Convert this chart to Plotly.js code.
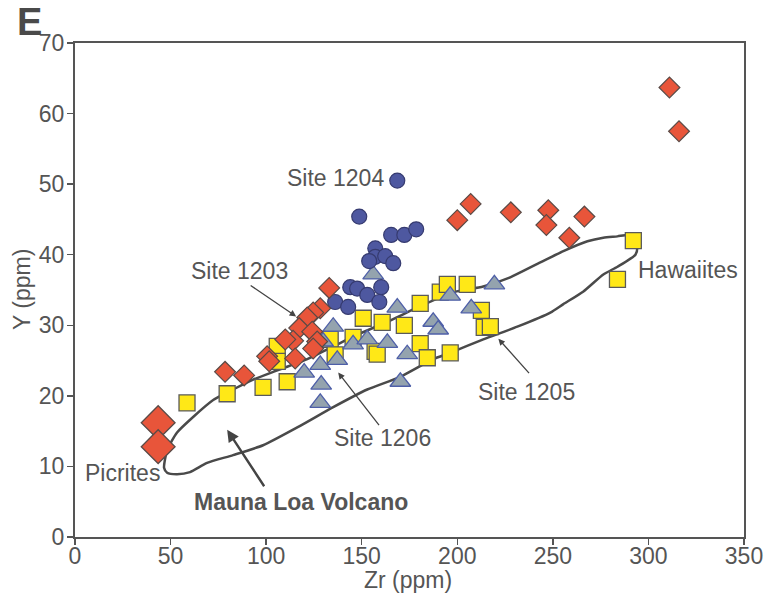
<!DOCTYPE html>
<html>
<head>
<meta charset="utf-8">
<script src="https://cdn.plot.ly/plotly-3.0.1.min.js"></script>
<style>html,body{margin:0;padding:0;background:#fff}#chart{width:767px;height:601px}</style>
</head>
<body>
<div id="chart"></div>
<script>
// Site 1203 (red diamonds)
const site1203Zr = [133, 128.3, 124.6, 121.5, 117.3, 124.1, 114.1, 110, 126.7, 124.6, 115.2, 100.5, 101.6, 78.5, 88.5,
  200, 207, 228, 247.6, 246.6, 258.6, 266.5, 311, 316];
const site1203Y = [35.3, 32.4, 31.8, 31.1, 29.6, 29.1, 27.8, 28.0, 27.7, 26.7, 25.3, 25.6, 24.9, 23.4, 22.9,
  44.9, 47.2, 46.0, 46.3, 44.2, 42.4, 45.4, 63.7, 57.5];
// Picrites (large diamonds)
const picriteZr = [43.5, 43.5];
const picriteY = [16.2, 12.8];
// Site 1204 (blue circles)
const site1204Zr = [168.6, 148.7, 165.4, 172.3, 178.5, 157.1, 157.1, 162.3, 153.9, 166.5, 144, 147.6, 160.2, 152.9, 159.2, 136.1, 142.9];
const site1204Y = [50.5, 45.4, 42.8, 42.8, 43.6, 40.9, 39.7, 39.8, 39.1, 38.8, 35.4, 35.2, 35.4, 34.3, 33.3, 33.3, 32.6];
// Site 1205 (yellow squares)
const site1205Zr = [58.6, 79.6, 98.4, 111, 105.8, 105.8, 133.5, 136.1, 145.5, 150.8, 160.7, 172.3, 157, 158.1, 180.6, 184.3,
  196.3, 180.6, 191.1, 194.8, 205.2, 212.6, 214.1, 217.3, 292.1, 283.8];
const site1205Y = [19.0, 20.3, 21.2, 22.0, 27.0, 24.9, 28.0, 25.8, 28.3, 31.0, 30.4, 30.0, 26.3, 25.9, 27.4, 25.4,
  26.1, 33.1, 34.7, 35.8, 35.8, 32.1, 29.7, 29.8, 42.0, 36.5];
// Site 1206 (grey triangles)
const site1206Zr = [156, 135.1, 129.8, 145.5, 152.9, 163.4, 168.6, 187.4, 190, 173.8, 170.2, 196.3, 219.4, 207.3, 137.2, 128.3, 119.9, 128.8, 128.3];
const site1206Y = [37.2, 29.8, 27.7, 27.3, 28.0, 27.5, 32.5, 30.5, 29.4, 25.9, 22.0, 34.2, 35.8, 32.4, 25.1, 24.4, 23.3, 21.6, 19.0];
// Mauna Loa Volcano field outline
const fieldZr = [46.6, 48.2, 53.4, 60.2, 69.1, 82.7, 98.4, 116.8, 135.1, 152.9, 170.2, 187.4, 196.3, 213.6, 231.4, 248.7, 255.5, 266, 276.4, 283.8,
  293.2, 294.2, 293.2, 289.5, 283.8, 276.4, 268.1, 255.5, 241.9, 227.7, 213.6, 197.9, 180.6, 163.4, 145.5, 135.1, 121.5, 103.7, 93.2, 82.7, 72.3, 61.8, 53.4, 48.2, 46.6];
const fieldY = [9.8, 9.1, 8.9, 9.2, 10.5, 11.6, 13.0, 15.6, 18.4, 20.9, 22.7, 25.2, 26.1, 28.0, 29.8, 31.8, 33.0, 34.8, 37.2, 38.3,
  40.0, 41.1, 42.2, 42.8, 42.6, 42.4, 41.9, 40.5, 38.7, 36.8, 35.5, 34.7, 32.7, 30.5, 28.4, 27.0, 25.2, 23.4, 22.3, 20.9, 19.4, 17.0, 14.8, 12.3, 9.8];
const xTicks = [0, 50, 100, 150, 200, 250, 300, 350];
const yTicks = [0, 10, 20, 30, 40, 50, 60, 70];

const gray = '#555555';
const font = 'Liberation Sans, Arial, Helvetica, sans-serif';
const FS = 23;

const traces = [
  {x: fieldZr, y: fieldY, mode: 'lines', line: {color: '#4a4a4a', width: 2.5, shape: 'spline', smoothing: 0.6}, hoverinfo: 'skip'},
  {x: site1205Zr, y: site1205Y, mode: 'markers', marker: {symbol: 'square', size: 16, color: '#FFE817', line: {color: '#5a5a5a', width: 1.3}}},
  {x: site1206Zr, y: site1206Y, mode: 'markers', marker: {symbol: 'triangle-up', size: 18, color: '#94A3AE', line: {color: '#4E5FA8', width: 1.3}}},
  {x: site1204Zr, y: site1204Y, mode: 'markers', marker: {symbol: 'circle', size: 15, color: '#4E58A0', line: {color: '#363b70', width: 1.2}}},
  {x: site1203Zr, y: site1203Y, mode: 'markers', marker: {symbol: 'diamond', size: 16, color: '#E8553A', line: {color: '#5a4a46', width: 1.2}}},
  {x: picriteZr, y: picriteY, mode: 'markers', marker: {symbol: 'diamond', size: 26, color: '#E8553A', line: {color: '#5a4a46', width: 1.3}}}
];

const L = 75, R = 744, T = 43, B = 537;
const px = (p) => (p - L) / (R - L);
const py = (p) => (B - p) / (B - T);
const txt = (text, x, y, extra) => Object.assign({text: text, xref: 'paper', yref: 'paper', x: px(x), y: py(y),
  xanchor: 'center', yanchor: 'middle', showarrow: false,
  font: {family: font, size: FS, color: gray}}, extra || {});
const arrow = (x, y, ax, ay, w, s) => ({text: '', x: x, y: y, ax: ax, ay: ay, xref: 'x', yref: 'y', showarrow: true,
  arrowhead: 2, arrowsize: s || 1, arrowwidth: w || 1.3, arrowcolor: '#444', standoff: 0});

const annotations = [
  txt('Site 1204', 335, 178),
  txt('Site 1203', 239, 271),
  txt('Site 1206', 382, 438),
  txt('Site 1205', 526, 392),
  txt('Hawaiites', 688, 270),
  txt('Picrites', 122, 473),
  txt('<b>Mauna Loa Volcano</b>', 301, 502),
  txt('<b>E</b>', 29, 22, {font: {family: font, size: 38, color: '#4a4a4a'}}),
  txt('Zr (ppm)', 408, 580),
  txt('Y (ppm)', 22, 290, {textangle: -90}),
  arrow(115.7, 31.25, -47, -32),
  arrow(137.7, 23.3, 42, 54),
  arrow(221.5, 28.1, 32, 36),
  arrow(79.6, 15.2, 38, 58, 2.4, 1)
];

const layout = {
  width: 767, height: 601,
  margin: {l: L, r: 767 - R, t: T, b: 601 - B},
  paper_bgcolor: '#fff', plot_bgcolor: '#fff',
  showlegend: false,
  font: {family: font, color: gray, size: FS},
  xaxis: {range: [0, 350], tickvals: xTicks, ticks: 'outside', ticklen: 6, tickwidth: 1.5, tickcolor: gray,
    showline: true, mirror: true, linecolor: gray, linewidth: 2, showgrid: false, zeroline: false,
    ticklabelstandoff: -9,
    tickfont: {family: font, size: FS, color: gray}},
  yaxis: {range: [0, 70], tickvals: yTicks, ticks: 'outside', ticklen: 6, tickwidth: 1.5, tickcolor: gray,
    showline: true, mirror: true, linecolor: gray, linewidth: 2, showgrid: false, zeroline: false,
    ticklabelstandoff: -2,
    tickfont: {family: font, size: FS, color: gray}},
  annotations: annotations
};

Plotly.newPlot('chart', traces, layout, {displayModeBar: false, staticPlot: true});
</script>
</body>
</html>
